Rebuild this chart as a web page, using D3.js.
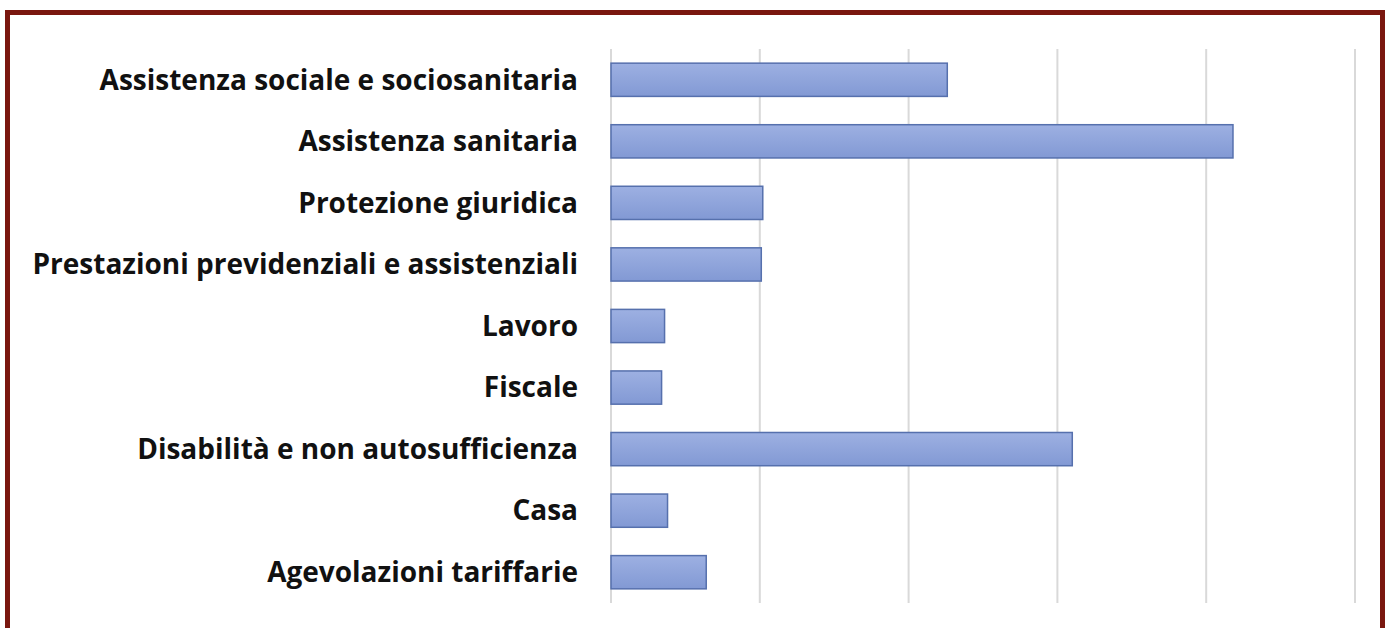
<!DOCTYPE html>
<html>
<head>
<meta charset="utf-8">
<script src="https://cdn.jsdelivr.net/npm/d3@7"></script>
<style>
  html, body { margin: 0; padding: 0; background: #fff; }
  svg { display: block; }
</style>
</head>
<body>
<div id="chart"></div>
<script>
// data (gridlines every 5 units, no tick labels shown)
const categories = [
  "Assistenza sociale e sociosanitaria",
  "Assistenza sanitaria",
  "Protezione giuridica",
  "Prestazioni previdenziali e assistenziali",
  "Lavoro",
  "Fiscale",
  "Disabilità e non autosufficienza",
  "Casa",
  "Agevolazioni tariffarie"
];
const values = [11.3, 20.9, 5.1, 5.05, 1.8, 1.7, 15.5, 1.9, 3.2];
const gridTicks = [0, 5, 10, 15, 20, 25];

const W = 1391, H = 628;
const margin = { top: 49, right: 36, bottom: 25, left: 611 };
const width = 1355 - margin.left;
const height = 603 - margin.top;

const svg = d3.select("#chart").append("svg")
  .attr("width", W)
  .attr("height", H);

// frame
svg.append("rect")
  .attr("x", 7.5)
  .attr("y", 12.5)
  .attr("width", 1375)
  .attr("height", 630)
  .attr("fill", "#fff")
  .attr("stroke", "#7a170f")
  .attr("stroke-width", 5);

const defs = svg.append("defs");
const grad = defs.append("linearGradient")
  .attr("id", "barGrad")
  .attr("x1", 0).attr("y1", 0).attr("x2", 0).attr("y2", 1);
grad.append("stop").attr("offset", "0%").attr("stop-color", "#9db0e2");
grad.append("stop").attr("offset", "100%").attr("stop-color", "#8299d4");

const g = svg.append("g")
  .attr("transform", `translate(${margin.left},${margin.top})`);

const x = d3.scaleLinear()
  .domain([0, 25])
  .range([0, width]);

const y = d3.scaleBand()
  .domain(categories)
  .range([0, height])
  .paddingInner(0.46)
  .paddingOuter(0.23);

// gridlines
g.selectAll(".grid")
  .data(gridTicks)
  .enter()
  .append("line")
  .attr("class", "grid")
  .attr("x1", d => x(d))
  .attr("x2", d => x(d))
  .attr("y1", 0)
  .attr("y2", height)
  .attr("stroke", "#d9d9d9")
  .attr("stroke-width", 2);

// bars
g.selectAll(".bar")
  .data(values)
  .enter()
  .append("rect")
  .attr("class", "bar")
  .attr("x", x(0))
  .attr("y", (d, i) => y(categories[i]))
  .attr("width", d => x(d) - x(0))
  .attr("height", y.bandwidth())
  .attr("fill", "url(#barGrad)")
  .attr("stroke", "#5670ad")
  .attr("stroke-width", 1.5);

// category labels
g.selectAll(".label")
  .data(categories)
  .enter()
  .append("text")
  .attr("class", "label")
  .attr("x", -33)
  .attr("y", d => y(d) + y.bandwidth() / 2)
  .attr("dy", "0.35em")
  .attr("text-anchor", "end")
  .style("font-family", "'Open Sans', sans-serif")
  .style("font-weight", "bold")
  .style("font-size", "28px")
  .attr("fill", "#111")
  .text(d => d);
</script>
</body>
</html>
